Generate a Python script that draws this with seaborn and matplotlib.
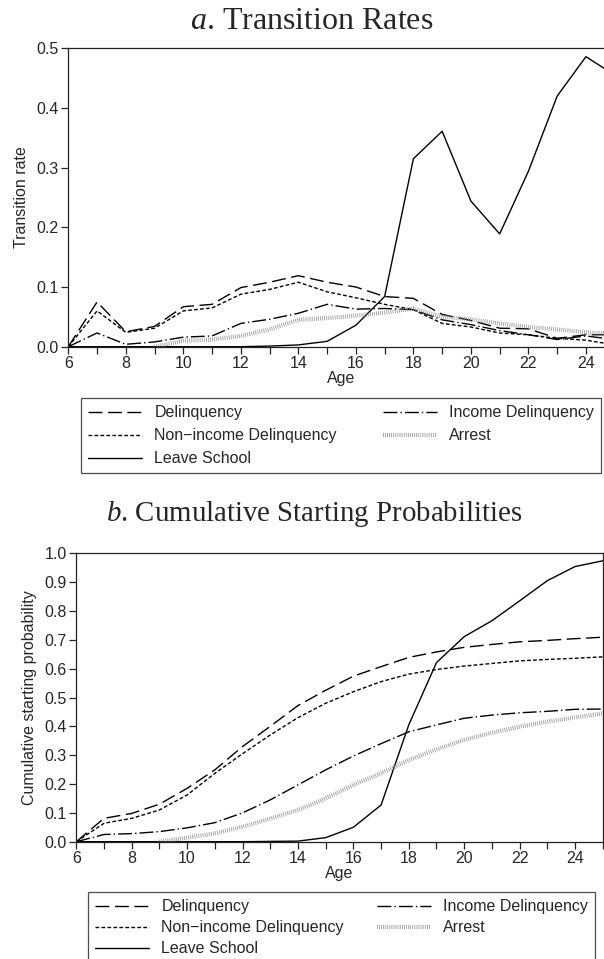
import numpy as np
import pandas as pd
import matplotlib
matplotlib.use("Agg")
import matplotlib.pyplot as plt
import seaborn as sns

# --- dados ---
ages = list(range(6, 26))

rate_delinquency = [0.000, 0.075, 0.025, 0.034, 0.067, 0.071, 0.099, 0.108, 0.119, 0.108,
                    0.100, 0.084, 0.081, 0.054, 0.044, 0.031, 0.030, 0.014, 0.020, 0.020]
rate_nonincome = [0.000, 0.060, 0.024, 0.031, 0.060, 0.065, 0.088, 0.096, 0.108, 0.092,
                  0.082, 0.071, 0.062, 0.039, 0.033, 0.023, 0.020, 0.014, 0.011, 0.003]
rate_income = [0.000, 0.023, 0.004, 0.008, 0.016, 0.018, 0.039, 0.046, 0.056, 0.071,
               0.063, 0.064, 0.062, 0.045, 0.037, 0.027, 0.020, 0.012, 0.018, 0.012]
rate_arrest = [np.nan, np.nan, np.nan, 0.000, 0.010, 0.012, 0.018, 0.029, 0.045, 0.048,
               0.052, 0.057, 0.064, 0.050, 0.046, 0.039, 0.033, 0.029, 0.024, 0.022]
rate_leave = [0.000, 0.000, 0.000, 0.000, 0.000, 0.000, 0.000, 0.001, 0.003, 0.009,
              0.036, 0.084, 0.315, 0.361, 0.244, 0.189, 0.294, 0.420, 0.486, 0.455]

cum_delinquency = [0.000, 0.081, 0.098, 0.130, 0.185, 0.249, 0.330, 0.400, 0.472, 0.525,
                   0.574, 0.607, 0.639, 0.658, 0.674, 0.684, 0.693, 0.698, 0.704, 0.709]
cum_nonincome = [0.000, 0.064, 0.081, 0.110, 0.162, 0.237, 0.305, 0.370, 0.430, 0.480,
                 0.520, 0.555, 0.581, 0.597, 0.609, 0.618, 0.627, 0.632, 0.636, 0.641]
cum_income = [0.000, 0.025, 0.028, 0.035, 0.048, 0.066, 0.100, 0.145, 0.197, 0.249,
              0.297, 0.340, 0.381, 0.405, 0.428, 0.439, 0.447, 0.452, 0.459, 0.460]
cum_arrest = [np.nan, np.nan, np.nan, 0.000, 0.014, 0.029, 0.052, 0.080, 0.110, 0.150,
              0.197, 0.237, 0.283, 0.320, 0.353, 0.378, 0.399, 0.416, 0.431, 0.445]
cum_leave = [0.000, 0.000, 0.000, 0.000, 0.000, 0.000, 0.000, 0.001, 0.002, 0.014,
             0.050, 0.127, 0.405, 0.621, 0.711, 0.766, 0.835, 0.905, 0.954, 0.974]

series_labels = ["Delinquency", "Non\u2212income Delinquency", "Leave School",
                 "Income Delinquency", "Arrest"]

df_rates = pd.DataFrame({"Age": ages, series_labels[0]: rate_delinquency,
                         series_labels[1]: rate_nonincome, series_labels[2]: rate_leave,
                         series_labels[3]: rate_income, series_labels[4]: rate_arrest})
df_cum = pd.DataFrame({"Age": ages, series_labels[0]: cum_delinquency,
                       series_labels[1]: cum_nonincome, series_labels[2]: cum_leave,
                       series_labels[3]: cum_income, series_labels[4]: cum_arrest})

# estilos de linha (em pontos, sem escala pela espessura)
estilos = {
    series_labels[0]: dict(color="black", lw=1.0, ls=(0, (10, 4))),
    series_labels[1]: dict(color="black", lw=1.0, ls=(0, (2.7, 1.6))),
    series_labels[2]: dict(color="black", lw=1.0, ls="-"),
    series_labels[3]: dict(color="black", lw=1.0, ls=(0, (10, 2.2, 1, 2.2))),
    series_labels[4]: dict(color="#8a8a8a", lw=3.0, ls=(0, (0.5, 1.0))),
}

sns.set_style("ticks")
plt.rcParams["font.family"] = ["Liberation Sans", "DejaVu Sans"]
plt.rcParams["lines.scale_dashes"] = False
plt.rcParams["mathtext.fontset"] = "custom"
plt.rcParams["mathtext.it"] = "Liberation Serif:italic"
plt.rcParams["mathtext.rm"] = "Liberation Serif"

W, H = 604, 959
fig = plt.figure(figsize=(W / 100, H / 100), dpi=100)


def px_axes(left, top, right, bottom):
    return fig.add_axes([left / W, 1 - bottom / H, (right - left) / W, (bottom - top) / H])


ax1 = px_axes(68.3, 48.3, 614.7, 346.7)
ax2 = px_axes(76.3, 553.3, 602.7, 841.7)


def desenhar(ax, df, ylim, yticks, ylabel):
    for nome in series_labels:
        st = estilos[nome]
        sns.lineplot(data=df, x="Age", y=nome, ax=ax, color=st["color"],
                     linewidth=st["lw"], linestyle=st["ls"], label=nome, legend=False)
    ax.set_xlim(6, 25)
    ax.set_ylim(*ylim)
    ax.set_xticks(range(6, 25, 2))
    ax.set_xticks(range(6, 26), minor=True)
    ax.set_yticks(yticks)
    ax.yaxis.set_major_formatter(matplotlib.ticker.FormatStrFormatter("%.1f"))
    ax.tick_params(axis="both", which="both", direction="out", length=5, width=0.9,
                   color="#222222", labelsize=11.5, pad=2)
    ax.set_xlabel("Age", fontsize=11.5, labelpad=0)
    ax.set_ylabel(ylabel, fontsize=11.5, labelpad=5)
    for sp in ax.spines.values():
        sp.set_visible(True)
        sp.set_linewidth(0.9)
        sp.set_color("#222222")


desenhar(ax1, df_rates, (0, 0.5), np.arange(0, 0.51, 0.1), "Transition rate")
desenhar(ax2, df_cum, (0, 1.0), np.arange(0, 1.01, 0.1), "Cumulative starting probability")

fig.text(0.516, 1 - 29 / H, r"$a$. Transition Rates", ha="center", va="baseline",
         fontsize=23, family="Liberation Serif")
fig.text(0.520, 1 - 521 / H, r"$b$. Cumulative Starting Probabilities", ha="center",
         va="baseline", fontsize=20.8, family="Liberation Serif")

# legendas
handles, labels = ax1.get_legend_handles_labels()
for left, top, right, spacing in [(81, 398, 601, 0.5), (88, 892, 595, 0.38)]:
    leg = fig.legend(handles, labels, loc="upper left", ncol=2, mode="expand",
                     bbox_to_anchor=(left / W, 1 - top / H - 0.001, (right - left) / W, 0.001),
                     borderaxespad=0, fontsize=11.5, handlelength=3.4, handletextpad=0.75,
                     labelspacing=spacing, borderpad=0.45, fancybox=False, frameon=True)
    leg.get_frame().set_edgecolor("#222222")
    leg.get_frame().set_linewidth(0.9)

fig.savefig("out.png", dpi=100)
